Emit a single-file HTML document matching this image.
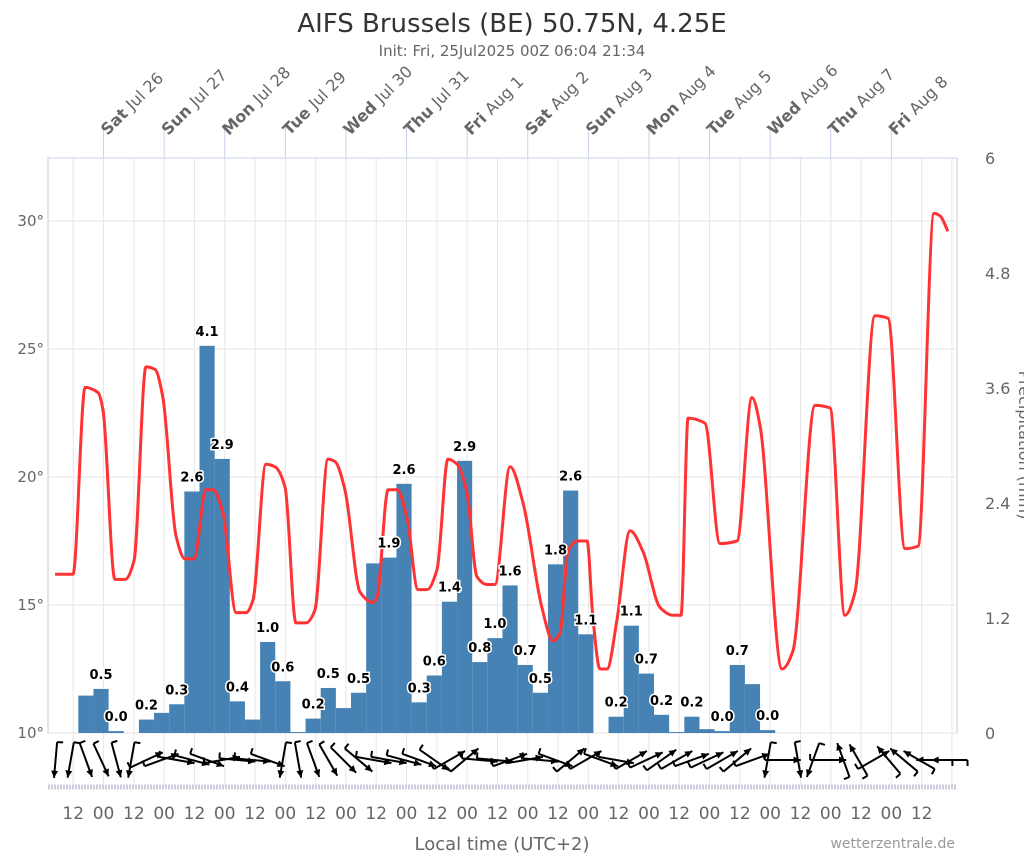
<!DOCTYPE html>
<html><head><meta charset="utf-8"><style>
body{margin:0;background:#fff;font-family:"Liberation Sans","DejaVu Sans",sans-serif;}
svg text{font-family:"DejaVu Sans","Liberation Sans",sans-serif;}
</style></head><body>
<svg id="chart" width="1024" height="853" viewBox="0 0 1024 853">
<text x="512" y="32" text-anchor="middle" font-size="26" fill="#333">AIFS Brussels (BE) 50.75N, 4.25E</text>
<text x="512" y="56" text-anchor="middle" font-size="15" fill="#666">Init: Fri, 25Jul2025 00Z 06:04 21:34</text>
<g id="grid"></g><g id="bars"></g><g id="temp"></g><g id="labels"></g><g id="wind"></g><g id="axes"></g>
<text x="502" y="850" text-anchor="middle" font-size="18" fill="#666">Local time (UTC+2)</text>
<text x="955" y="848" text-anchor="end" font-size="14" fill="#999">wetterzentrale.de</text>
<text transform="translate(1019,445) rotate(90)" text-anchor="middle" font-size="16" fill="#666">Precipitation (mm)</text>
</svg>
<script>
const precip=[0,0,0.39,0.46,0.02,0,0.14,0.21,0.30,2.52,4.04,2.86,0.33,0.14,0.95,0.54,0.01,0.15,0.47,0.26,0.42,1.77,1.83,2.60,0.32,0.60,1.37,2.84,0.74,0.99,1.54,0.71,0.42,1.76,2.53,1.03,0,0.17,1.12,0.62,0.19,0.01,0.17,0.04,0.02,0.71,0.51,0.03,0,0,0,0,0,0,0,0,0,0,0,0];
const precipLabels=[null,null,null,"0.5","0.0",null,"0.2",null,"0.3","2.6","4.1","2.9","0.4",null,"1.0","0.6",null,"0.2","0.5",null,"0.5",null,"1.9","2.6","0.3","0.6","1.4","2.9","0.8","1.0","1.6","0.7","0.5","1.8","2.6","1.1",null,"0.2","1.1","0.7","0.2",null,"0.2",null,"0.0","0.7",null,"0.0"];
const tempHours=[2.8,9.9,14.7,19.8,21.8,26.5,30.5,34.1,38.8,42.4,45.5,50.7,54.3,57.8,62.6,65.3,69.3,74.5,78.4,81.2,86.3,89.9,93.9,98.2,102.2,105.7,110.9,113.7,117.6,123.6,128.7,130.3,134.7,138.2,142.2,146.5,150.1,154.1,158.4,162,165.9,169.9,173.9,177,183,188.1,195.6,200,202.8,205.9,209.5,213.5,215.8,218.6,221.4,225.3,230.5,235.6,242.4,247.5,250.7,253.5,260.2,266.1,272.9,278.8,282,290.7,295,303.8,309.7,315.6,319.6,327.5,332.7,339.4,344.6,350.9,353.3,356.4];
const tempValues=[16.2,16.2,23.5,23.3,22.6,16.0,16.0,16.75,24.3,24.2,23.1,17.7,16.8,16.8,19.5,19.5,18.6,14.7,14.7,15.2,20.5,20.4,19.6,14.3,14.3,14.8,20.7,20.6,19.5,15.5,15.1,15.3,19.5,19.5,18.4,15.6,15.6,16.4,20.7,20.5,19.4,16.1,15.8,15.8,20.4,19.0,14.9,13.6,13.9,17.1,17.5,17.5,14.5,12.5,12.5,14.4,17.9,17.1,14.9,14.6,14.6,22.3,22.1,17.4,17.5,23.1,22.0,12.5,13.2,22.8,22.7,14.6,15.5,26.3,26.2,17.2,17.3,30.3,30.2,29.6];
const tempTicks=[10,15,20,25,30];
const precipTicks=[0,1.2,2.4,3.6,4.8,6];
const dayLabels=[["Sat","Jul 26"],["Sun","Jul 27"],["Mon","Jul 28"],["Tue","Jul 29"],["Wed","Jul 30"],["Thu","Jul 31"],["Fri","Aug 1"],["Sat","Aug 2"],["Sun","Aug 3"],["Mon","Aug 4"],["Tue","Aug 5"],["Wed","Aug 6"],["Thu","Aug 7"],["Fri","Aug 8"]];
const windAngles=[95,100,70,65,75,100,-25,-20,10,15,20,-10,5,5,20,100,80,70,60,45,40,10,10,15,20,35,-30,-40,5,5,-20,-10,5,20,-40,-30,20,10,-30,-25,-35,-30,-20,-25,-30,-40,-20,100,0,80,110,0,-110,-120,-30,-130,-140,-150,180,180];
const ns="http://www.w3.org/2000/svg";
const L=48,R=957,T=158,B=733;
const hx=h=>L+h*(R-L)/360;
const ty=t=>B-(t-10)*25.6;
const py=p=>B-p*(B-T)/6;
function mk(tag,attrs,parent){const e=document.createElementNS(ns,tag);for(const k in attrs)e.setAttribute(k,attrs[k]);parent.appendChild(e);return e;}
const grid=document.getElementById('grid'),axes=document.getElementById('axes');
const pb=mk('rect',{x:L,y:T,width:R-L,height:B-T,fill:'none',stroke:'#ccc'},grid);


for(let h=10;h<=360;h+=12){const g=mk('line',{x1:hx(h),x2:hx(h),y1:T,y2:785,stroke:'#e6e6e6'},grid);

}
tempTicks.forEach(t=>{const g=mk('line',{x1:L,x2:R,y1:ty(t),y2:ty(t),stroke:'#e6e6e6'},grid);


const tx=mk('text',{x:44,y:ty(t)+5,'text-anchor':'end','font-size':15,fill:'#666'},axes);tx.textContent=t+'°';

});
precipTicks.forEach(p=>{const tx=mk('text',{x:985,y:py(p)+6,'text-anchor':'start','font-size':16,fill:'#666'},axes);tx.textContent=p;

});
dayLabels.forEach((d,i)=>{const x=hx(22+24*i);
const ln=mk('line',{x1:x,x2:x,y1:127,y2:T,stroke:'#c8d0ea'},axes);


const tx=mk('text',{transform:`translate(${x+4},${136}) rotate(-45)`,'font-size':16,fill:'#666'},axes);


const b=mk('tspan',{'font-weight':'bold'},tx);b.textContent=d[0]+' ';const s=mk('tspan',{},tx);s.textContent=d[1];});
mk('line',{x1:L,x2:R,y1:T,y2:T,stroke:'#c8d0ea'},axes);
for(let h=10;h<=346;h+=12){const tx=mk('text',{x:hx(h),y:819,'text-anchor':'middle','font-size':17,fill:'#666'},axes);
tx.textContent=((h-10)/12)%2===0?'12':'00';

}
const strip=mk('line',{x1:L,x2:R,y1:787,y2:787,stroke:'#ccd','stroke-width':5,'stroke-dasharray':'2,1'},axes);


const bars=document.getElementById('bars'),labs=document.getElementById('labels');
precip.forEach((v,i)=>{if(v<=0)return;const x0=hx(i*6),x1=hx(i*6+6);
const r=mk('rect',{x:x0,y:py(v),width:x1-x0,height:B-py(v),fill:'#4682b4'},bars);

});
precipLabels.forEach((s,i)=>{if(!s)return;const v=precip[i];
const tx=mk('text',{x:hx(i*6+3),y:py(v)-10,'text-anchor':'middle','font-size':13,'font-weight':'bold',fill:'#000',stroke:'#fff','stroke-width':3,'paint-order':'stroke'},labs);
tx.textContent=s;

});
(function(){const n=tempHours.length,xs=tempHours.map(hx),ys=tempValues.map(ty);
const d=[],m=new Array(n);for(let i=0;i<n-1;i++)d.push((ys[i+1]-ys[i])/(xs[i+1]-xs[i]));
m[0]=d[0];m[n-1]=d[n-2];for(let i=1;i<n-1;i++){const a=d[i-1],b=d[i];m[i]=(a*b<=0)?0:2*a*b/(a+b);}
let p=`M${xs[0]},${ys[0]}`;for(let i=0;i<n-1;i++){const h=(xs[i+1]-xs[i])/3;p+=` C${xs[i]+h},${ys[i]+m[i]*h} ${xs[i+1]-h},${ys[i+1]-m[i+1]*h} ${xs[i+1]},${ys[i+1]}`;}
const path=mk('path',{d:p,fill:'none',stroke:'#ff3333','stroke-width':3},document.getElementById('temp'));

})();
const wind=document.getElementById('wind');
windAngles.forEach((a,i)=>{const cx=hx(i*6+3),cy=760,r=a*Math.PI/180,len=18;
const x1=cx-Math.cos(r)*len,y1=cy-Math.sin(r)*len,x2=cx+Math.cos(r)*len,y2=cy+Math.sin(r)*len;
const g=mk('g',{},wind);


mk('line',{x1:x1,y1:y1,x2:x2,y2:y2,stroke:'#000','stroke-width':2},g);
const ha=0.45,hl=8;
mk('polygon',{points:`${x2},${y2} ${x2-hl*Math.cos(r-ha)},${y2-hl*Math.sin(r-ha)} ${x2-hl*Math.cos(r+ha)},${y2-hl*Math.sin(r+ha)}`,fill:'#000'},g);
mk('line',{x1:x1,y1:y1,x2:x1+6*Math.cos(r-1.6),y2:y1+6*Math.sin(r-1.6),stroke:'#000','stroke-width':2},g);});
</script>
</body></html>
